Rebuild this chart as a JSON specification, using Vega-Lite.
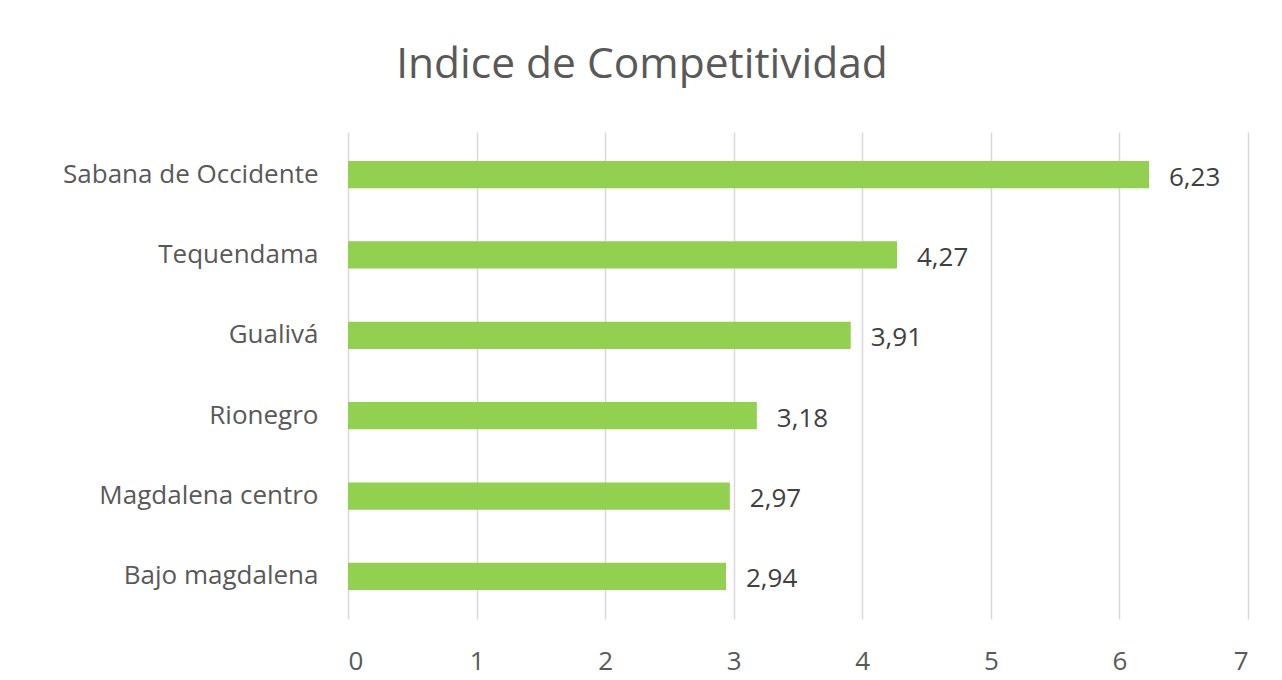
{
  "$schema": "https://vega.github.io/schema/vega-lite/v6.json",
  "autosize": {"type": "none"},
  "width": 900,
  "height": 487,
  "padding": {"left": 348, "top": 132, "right": 34, "bottom": 61},
  "background": "white",
  "config": {
    "locale": {"number": {"decimal": ",", "thousands": ".", "grouping": [3], "currency": ["", " €"]}},
    "view": {"stroke": null},
    "font": "Open Sans"
  },
  "title": {
    "text": "Indice de Competitividad",
    "fontSize": 42.5,
    "font": "Open Sans",
    "fontWeight": "normal",
    "color": "#595959",
    "anchor": "middle",
    "frame": "group",
    "dx": -156,
    "offset": 46
  },
  "data": {
    "values": [
      {"region": "Sabana de Occidente", "indice": 6.23},
      {"region": "Tequendama", "indice": 4.27},
      {"region": "Gualivá", "indice": 3.91},
      {"region": "Rionegro", "indice": 3.18},
      {"region": "Magdalena centro", "indice": 2.97},
      {"region": "Bajo magdalena", "indice": 2.94}
    ]
  },
  "encoding": {
    "y": {
      "field": "region",
      "type": "nominal",
      "sort": null,
      "scale": {"paddingInner": 0.66, "paddingOuter": 0.36},
      "axis": {
        "title": null,
        "ticks": false,
        "domain": false,
        "labelFontSize": 26,
        "labelColor": "#595959",
        "labelPadding": 30,
        "labelLimit": 400,
        "labelFont": "Open Sans"
      }
    },
    "x": {
      "field": "indice",
      "type": "quantitative",
      "scale": {"domain": [0, 7], "nice": false},
      "axis": {
        "title": null,
        "values": [0, 1, 2, 3, 4, 5, 6, 7],
        "format": "d",
        "ticks": false,
        "domain": false,
        "grid": true,
        "gridColor": "#d9d9d9",
        "gridWidth": 1.5,
        "labelFontSize": 26,
        "labelColor": "#595959",
        "labelPadding": 29,
        "labelFont": "Open Sans"
      }
    }
  },
  "layer": [
    {"mark": {"type": "bar", "color": "#92D050"}},
    {
      "mark": {"type": "text", "align": "left", "baseline": "middle", "dx": 20, "dy": 3, "fontSize": 26, "color": "#404040", "font": "Open Sans"},
      "encoding": {"text": {"field": "indice", "type": "quantitative", "format": ".2f"}}
    }
  ]
}
